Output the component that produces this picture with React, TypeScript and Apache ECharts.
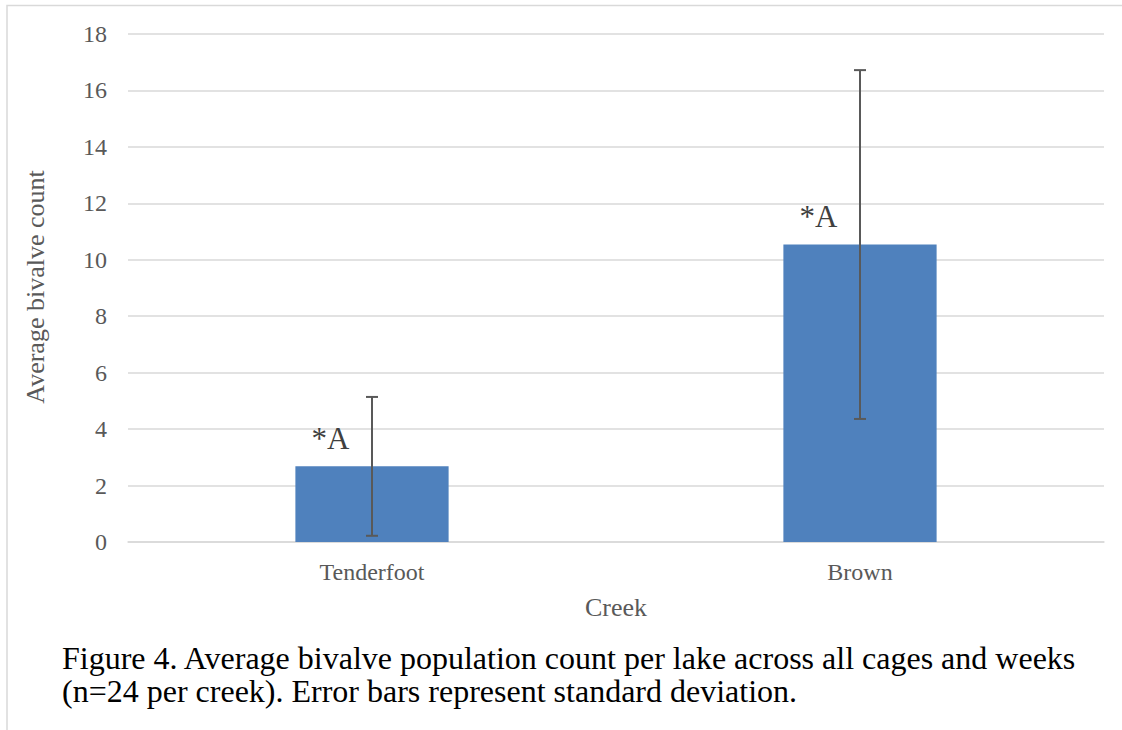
import React, { useEffect, useRef } from "react";
import * as echarts from "echarts";

const categories = ["Tenderfoot", "Brown"];
const means = [2.68, 10.54];
const sdLow = [0.22, 4.36];
const sdHigh = [5.14, 16.72];
const sigLabels = ["*A", "*A"];
const yTicks = { min: 0, max: 18, interval: 2 };
const yTitle = "Average bivalve count";
const xTitle = "Creek";
const captionLines = [
  "Figure 4. Average bivalve population count per lake across all cages and weeks",
  "(n=24 per creek). Error bars represent standard deviation.",
];

const FONT = "Times New Roman, Liberation Serif, DejaVu Serif, serif";

export default function App() {
  const ref = useRef<HTMLDivElement>(null);
  useEffect(() => {
    if (!ref.current) return;
    const chart = echarts.init(ref.current, undefined, { renderer: "svg" });
    chart.setOption({
      animation: false,
      backgroundColor: "#ffffff",
      textStyle: { fontFamily: FONT },
      grid: { left: 128, right: 18, top: 34, bottom: 188 },
      xAxis: {
        type: "category",
        data: categories,
        axisLine: { lineStyle: { color: "#d9d9d9", width: 1.5 } },
        axisTick: { show: false },
        axisLabel: { color: "#595959", fontFamily: FONT, fontSize: 24, margin: 18 },
      },
      yAxis: {
        type: "value",
        min: yTicks.min,
        max: yTicks.max,
        interval: yTicks.interval,
        axisLine: { show: false },
        axisTick: { show: false },
        axisLabel: { color: "#595959", fontFamily: FONT, fontSize: 24, margin: 21 },
        splitLine: { lineStyle: { color: "#d9d9d9", width: 1.5 } },
      },
      series: [
        {
          type: "bar",
          data: means.map((v, i) => ({
            value: v,
            label: { formatter: sigLabels[i] },
          })),
          barWidth: "31.4%",
          itemStyle: { color: "#4f81bd" },
          label: {
            show: true,
            position: [16, -28],
            align: "left",
            verticalAlign: "middle",
            color: "#404040",
            fontFamily: FONT,
            fontSize: 31,
          },
          z: 2,
        },
        {
          type: "custom",
          data: categories.map((c, i) => [i, sdLow[i], sdHigh[i]]),
          renderItem: (params: any, api: any) => {
            const x = api.value(0);
            const lo = api.coord([x, api.value(1)]);
            const hi = api.coord([x, api.value(2)]);
            const cap = 6;
            const style = { stroke: "#595959", lineWidth: 2 };
            return {
              type: "group",
              children: [
                { type: "line", shape: { x1: lo[0], y1: lo[1], x2: hi[0], y2: hi[1] }, style },
                { type: "line", shape: { x1: hi[0] - cap, y1: hi[1], x2: hi[0] + cap, y2: hi[1] }, style },
                { type: "line", shape: { x1: lo[0] - cap, y1: lo[1], x2: lo[0] + cap, y2: lo[1] }, style },
              ],
            };
          },
          z: 3,
        },
      ],
      graphic: [
        {
          type: "polyline",
          shape: { points: [[7, 730], [7, 5.5], [1122, 5.5]] },
          style: { stroke: "#d9d9d9", lineWidth: 1.5, fill: null },
        },
        {
          type: "text",
          x: 35,
          y: 287,
          rotation: Math.PI / 2,
          style: {
            text: yTitle,
            fill: "#595959",
            fontFamily: FONT,
            fontSize: 26,
            align: "center",
            verticalAlign: "middle",
          },
        },
        {
          type: "text",
          x: 616,
          y: 607,
          style: {
            text: xTitle,
            fill: "#595959",
            fontFamily: FONT,
            fontSize: 26,
            align: "center",
            verticalAlign: "middle",
          },
        },
        ...captionLines.map((t, i) => ({
          type: "text",
          x: 62,
          y: 658 + i * 33,
          style: {
            text: t,
            fill: "#000000",
            fontFamily: FONT,
            fontSize: 32,
            align: "left",
            verticalAlign: "middle",
          },
        })),
      ],
    });
    return () => chart.dispose();
  }, []);
  return (
    <div
      ref={ref}
      style={{ position: "fixed", left: 0, top: 0, width: 1122, height: 730 }}
    />
  );
}
